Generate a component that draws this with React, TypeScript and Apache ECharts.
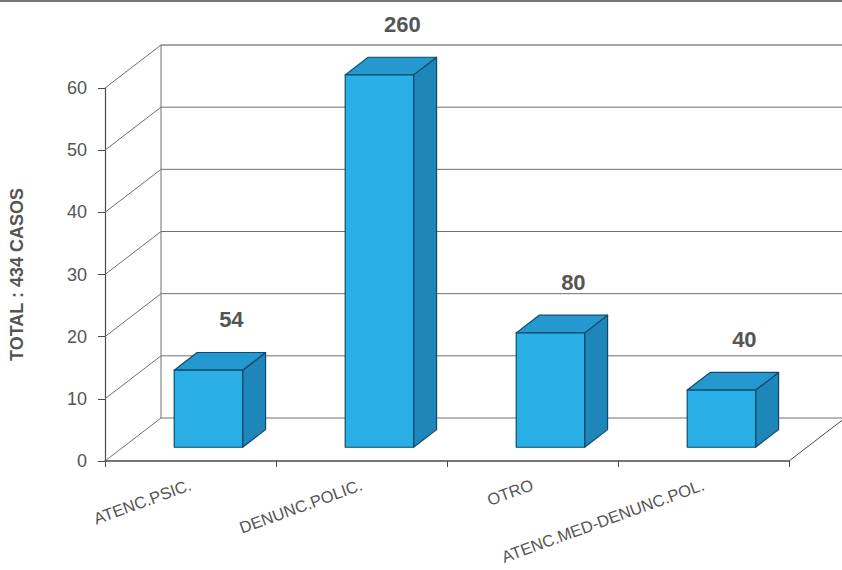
import React, { useEffect, useRef } from "react";
import * as echarts from "echarts";

const categories = ["ATENC.PSIC.", "DENUNC.POLIC.", "OTRO", "ATENC.MED-DENUNC.POL."];
const percentValues = [12.4, 59.9, 18.4, 9.2];
const caseCounts = [54, 260, 80, 40];
const yTicks = [0, 10, 20, 30, 40, 50, 60];
const yTitle = "TOTAL : 434 CASOS";

// 3D styling constants
const DEPTH_X = 56;
const DEPTH_Y = -43;
const BAR_FRONT_FRAC = 0.32;
const BAR_DEPTH_FRAC = 0.41;
const BAR_WIDTH_RATIO = 0.4;
const LABEL_LIFT = 22;

const FRONT = "#2aaee6";
const TOP = "#2598d0";
const SIDE = "#1e86b8";
const EDGE = "#0e4a6c";
const GRID = "#707070";
const AXIS = "#4a4a4a";
const TEXT = "#555555";

export default function App() {
  const ref = useRef<HTMLDivElement>(null);

  useEffect(() => {
    document.body.style.margin = "0";
    const chart = echarts.init(ref.current!, null, { renderer: "svg" });

    const frameData = yTicks.map((t) => [0, t]);
    const barData = percentValues.map((v, i) => [i, v, caseCounts[i]]);

    chart.setOption({
      animation: false,
      backgroundColor: "#ffffff",
      grid: { left: 103, right: 53, top: 88, bottom: 109 },
      xAxis: {
        type: "category",
        data: categories,
        boundaryGap: true,
        axisLine: { show: true, lineStyle: { color: AXIS, width: 1.5 } },
        axisTick: { show: true, length: 6, alignWithLabel: false, lineStyle: { color: AXIS, width: 1 } },
        axisLabel: {
          rotate: 20,
          margin: 23,
          color: TEXT,
          fontFamily: "Liberation Sans, Arial, sans-serif",
          fontSize: 16.5,
          interval: 0,
        },
        splitLine: { show: false },
      },
      yAxis: {
        type: "value",
        min: 0,
        max: 60,
        interval: 10,
        name: yTitle,
        nameLocation: "middle",
        nameGap: 79,
        nameRotate: 90,
        nameTextStyle: {
          color: TEXT,
          fontWeight: "bold",
          fontSize: 18,
          fontFamily: "Liberation Sans, Arial, sans-serif",
        },
        axisLine: { show: true, lineStyle: { color: AXIS, width: 1.2 } },
        axisTick: { show: true, length: 7, lineStyle: { color: AXIS } },
        axisLabel: {
          margin: 18,
          color: TEXT,
          fontSize: 18,
          fontFamily: "Liberation Sans, Arial, sans-serif",
        },
        splitLine: { show: false },
      },
      series: [
        {
          type: "custom",
          name: "frame",
          clip: false,
          silent: true,
          z: 1,
          data: frameData,
          renderItem: (params: any, api: any) => {
            const cs = params.coordSys;
            const v = api.value(1);
            const y = api.coord([0, v])[1];
            const left = cs.x;
            const right = cs.x + cs.width;
            const children: any[] = [];
            children.push({
              type: "line",
              shape: { x1: left, y1: y, x2: left + DEPTH_X, y2: y + DEPTH_Y },
              style: { stroke: GRID, lineWidth: 1 },
            });
            children.push({
              type: "line",
              shape: { x1: left + DEPTH_X, y1: y + DEPTH_Y, x2: right + DEPTH_X + 20, y2: y + DEPTH_Y },
              style: { stroke: v === 60 ? AXIS : GRID, lineWidth: 1 },
            });
            if (v === 0) {
              const yTop = cs.y;
              children.push({
                type: "line",
                shape: { x1: left + DEPTH_X, y1: y + DEPTH_Y, x2: left + DEPTH_X, y2: yTop + DEPTH_Y },
                style: { stroke: GRID, lineWidth: 1 },
              });
              children.push({
                type: "line",
                shape: { x1: right, y1: y, x2: right + DEPTH_X, y2: y + DEPTH_Y },
                style: { stroke: AXIS, lineWidth: 1 },
              });
            }
            return { type: "group", children };
          },
        },
        {
          type: "custom",
          name: "bars",
          clip: false,
          silent: true,
          z: 2,
          data: barData,
          renderItem: (params: any, api: any) => {
            const i = api.value(0);
            const v = api.value(1);
            const count = api.value(2);
            const base = api.coord([i, 0]);
            const top = api.coord([i, v]);
            const catW = api.size([1, 0])[0];
            const w = catW * BAR_WIDTH_RATIO;
            const ox = DEPTH_X * BAR_FRONT_FRAC;
            const oy = DEPTH_Y * BAR_FRONT_FRAC;
            const dx = DEPTH_X * BAR_DEPTH_FRAC;
            const dy = DEPTH_Y * BAR_DEPTH_FRAC;
            const x0 = base[0] - w / 2 + ox;
            const x1 = base[0] + w / 2 + ox;
            const yb = base[1] + oy;
            const yt = top[1] + oy;
            const edge = { stroke: EDGE, lineWidth: 1.2, lineJoin: "round" };
            return {
              type: "group",
              children: [
                {
                  type: "polygon",
                  shape: { points: [[x1, yb], [x1 + dx, yb + dy], [x1 + dx, yt + dy], [x1, yt]] },
                  style: { fill: SIDE, ...edge },
                },
                {
                  type: "polygon",
                  shape: { points: [[x0, yt], [x1, yt], [x1 + dx, yt + dy], [x0 + dx, yt + dy]] },
                  style: { fill: TOP, ...edge },
                },
                {
                  type: "rect",
                  shape: { x: x0, y: yt, width: x1 - x0, height: yb - yt },
                  style: { fill: FRONT, ...edge },
                },
                {
                  type: "text",
                  style: {
                    text: String(count),
                    x: (x0 + x1) / 2 + dx,
                    y: yt + dy - LABEL_LIFT,
                    align: "center",
                    verticalAlign: "bottom",
                    fill: TEXT,
                    font: "bold 22px 'Liberation Sans', Arial, sans-serif",
                  },
                },
              ],
            };
          },
        },
      ],
      graphic: [
        {
          type: "rect",
          shape: { x: 0, y: 0, width: 842, height: 2 },
          style: { fill: "#777777" },
          silent: true,
        },
      ],
    });

    return () => chart.dispose();
  }, []);

  return (
    <div
      ref={ref}
      style={{ position: "absolute", left: 0, top: 0, width: 842, height: 570 }}
    />
  );
}
